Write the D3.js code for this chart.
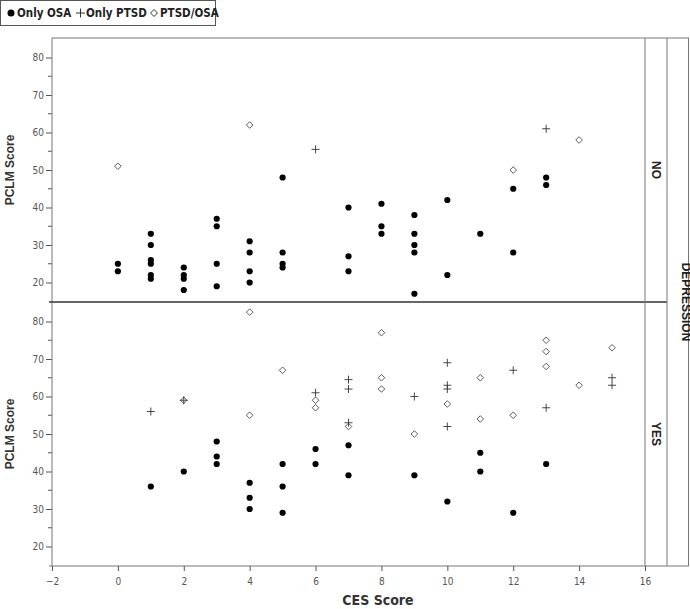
<!DOCTYPE html>
<html><head><meta charset="utf-8">
<script src="https://cdn.jsdelivr.net/npm/d3@7"></script>
<style>
body{margin:0;background:#fff}
.tick text{font-family:"Liberation Sans Narrow","DejaVu Sans Condensed",sans-serif;font-size:10px;fill:#555}
</style></head><body>
<svg id="chart" width="690" height="609"></svg>
<script>
// panel NO (no depression)
let noOsa = [[0,25],[0,23],[1,33],[1,30],[1,26],[1,25],[1,22],[1,21],[2,24],[2,22],[2,21],[2,18],
  [3,37],[3,35],[3,25],[3,19],[4,31],[4,28],[4,23],[4,20],[5,48],[5,28],[5,25],[5,24],
  [7,40],[7,27],[7,23],[8,41],[8,35],[8,33],[9,38],[9,33],[9,30],[9,28],[9,17],
  [10,42],[10,22],[11,33],[12,45],[12,28],[13,48],[13,46]];
let noPtsd = [[6,55.5],[13,61]];
let noBoth = [[0,51],[4,62],[12,50],[14,58]];
// panel YES (depression)
let yesOsa = [[1,36],[2,40],[3,48],[3,44],[3,42],[4,37],[4,33],[4,30],[5,42],[5,36],[5,29],
  [6,46],[6,42],[7,47],[7,39],[9,39],[10,32],[11,45],[11,40],[12,29],[13,42]];
let yesPtsd = [[1,56],[2,59],[6,61],[7,64.5],[7,62],[7,53],[9,60],[10,69],[10,63],[10,62],
  [10,52],[12,67],[13,57],[15,65],[15,63]];
let yesBoth = [[2,59],[4,82.5],[4,55],[5,67],[6,59],[6,57],[7,52],[8,77],[8,65],[8,62],[9,50],
  [10,58],[11,65],[11,54],[12,55],[13,75],[13,72],[13,68],[14,63],[15,73]];
let xTicks = [-2,0,2,4,6,8,10,12,14,16];
let yTicks = [20,30,40,50,60,70,80];
let legendLabels = ["Only OSA","Only PTSD","PTSD/OSA"];

let svg = d3.select("#chart");
let left = 52, right = 645, strip1 = 667, strip2 = 689;
let x = d3.scaleLinear().domain([-2,16]).range([left,right]);
let panels = [
  {name:"NO", top:38, bottom:302, osa:noOsa, ptsd:noPtsd, both:noBoth},
  {name:"YES", top:302, bottom:566, osa:yesOsa, ptsd:yesPtsd, both:yesBoth}
];
let bold = "'Liberation Sans',Arial,sans-serif";
let narrow = "'Liberation Sans Narrow','DejaVu Sans Condensed',sans-serif";

function cross(g, pts, y){
  g.selectAll(null).data(pts).enter().append("path")
    .attr("d", d => `M${x(d[0])-4},${y(d[1])}h8M${x(d[0])},${y(d[1])-4}v8`)
    .attr("stroke","#333").attr("stroke-width",0.9);
}
function diamond(g, pts, y){
  g.selectAll(null).data(pts).enter().append("path")
    .attr("d", d => `M${x(d[0])},${y(d[1])-3.3}l3.3,3.3l-3.3,3.3l-3.3,-3.3z`)
    .attr("fill","none").attr("stroke","#333").attr("stroke-width",0.8);
}
function dots(g, pts, y){
  g.selectAll(null).data(pts).enter().append("circle")
    .attr("cx", d => x(d[0])).attr("cy", d => y(d[1])).attr("r",3.1).attr("fill","#000");
}

panels.forEach(p => {
  let y = d3.scaleLinear().domain([14.8,85.2]).range([p.bottom,p.top]);
  let g = svg.append("g");
  let ax = g.append("g").attr("transform",`translate(${left},0)`)
    .call(d3.axisLeft(y).tickValues(yTicks).tickSize(6).tickPadding(2));
  ax.select(".domain").remove();
  ax.selectAll(".tick line").attr("stroke","#555");
  g.selectAll(null).data(d3.range(25,85,10)).enter().append("line")
    .attr("x1",left-4).attr("x2",left).attr("y1",d=>y(d)).attr("y2",d=>y(d)).attr("stroke","#555");
  g.append("text").attr("transform",`translate(14,${(p.top+p.bottom)/2}) rotate(-90)`)
    .attr("text-anchor","middle").attr("font-family",bold).attr("font-weight","bold")
    .attr("font-size",12).attr("fill","#333").text("PCLM Score");
  g.append("text").attr("transform",`translate(${(right+strip1)/2-4},${(p.top+p.bottom)/2}) rotate(90)`)
    .attr("text-anchor","middle").attr("font-family",bold).attr("font-weight","bold")
    .attr("font-size",12).attr("fill","#222").text(p.name);
  dots(g, p.osa, y);
  cross(g, p.ptsd, y);
  diamond(g, p.both, y);
});

// frame lines
let lines = [
  [left,38,strip2,38],[left,38,left,566],[left-3,302,strip1,302],[left-3,566,strip2,566],
  [right,38,right,566],[strip1,38,strip1,566],[strip2-0.5,38,strip2-0.5,566]
];
svg.selectAll(null).data(lines).enter().append("line")
  .attr("x1",d=>d[0]).attr("y1",d=>d[1]).attr("x2",d=>d[2]).attr("y2",d=>d[3])
  .attr("stroke",(d,i)=>i==2?"#333":"#777").attr("stroke-width",(d,i)=>i==2?1.5:1);
svg.append("text").attr("transform",`translate(${(strip1+strip2)/2+4},302) rotate(90)`)
  .attr("text-anchor","middle").attr("font-family",bold).attr("font-weight","bold")
  .attr("font-size",12).attr("fill","#222").text("DEPRESSION");

let xa = svg.append("g").attr("transform","translate(0,566)")
  .call(d3.axisBottom(x).tickValues(xTicks).tickSize(5).tickFormat(d3.format("d")));
xa.select(".domain").remove();
xa.selectAll(".tick line").attr("stroke","#555");
xa.selectAll(".tick text").attr("dy","1.1em");
svg.append("text").attr("x",378).attr("y",605).attr("text-anchor","middle")
  .attr("font-family",narrow).attr("font-weight","bold").attr("font-size",14)
  .attr("fill","#333").text("CES Score");

// legend
let lg = svg.append("g");
lg.append("rect").attr("x",0.5).attr("y",0.5).attr("width",215).attr("height",25)
  .attr("fill","none").attr("stroke","#555");
let lx = [7,76,150];
lg.append("circle").attr("cx",lx[0]+4).attr("cy",13).attr("r",3.5).attr("fill","#000");
lg.append("path").attr("d",`M${lx[1]},13h9M${lx[1]+4.5},8.5v9`).attr("stroke","#333");
lg.append("path").attr("d",`M${lx[2]+4},9.5l3.5,3.5l-3.5,3.5l-3.5,-3.5z`).attr("fill","none").attr("stroke","#333");
lg.selectAll(null).data(legendLabels).enter().append("text")
  .attr("x",(d,i)=>lx[i]+10).attr("y",17).attr("font-family",narrow)
  .attr("font-weight","bold").attr("font-size",11.5).attr("fill","#222").text(d=>d);
</script></body></html>
